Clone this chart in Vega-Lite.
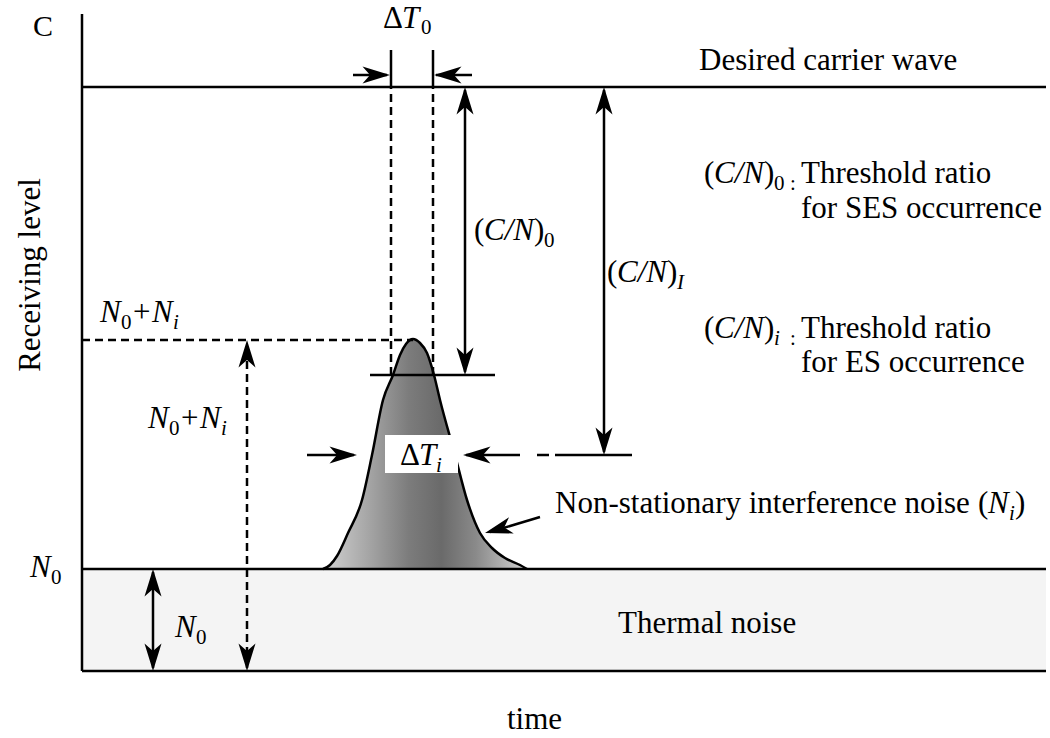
{
  "$schema": "https://vega.github.io/schema/vega-lite/v6.json",
  "width": 1050,
  "height": 738,
  "autosize": {"type": "none"},
  "padding": 0,
  "background": "white",
  "config": {"view": {"stroke": null}},
  "datasets": {
    "band": [{"t": 8.2, "v": 6.7, "t2": 104.6, "v2": 16.9}],
    "box": [{"t": 38.5, "v": 26.5, "t2": 45.8, "v2": 30.3}],
    "pulse": [
      {"t": 32.3, "v": 16.9}, {"t": 33.0, "v": 17.3}, {"t": 33.7, "v": 18.2}, {"t": 34.8, "v": 20.5},
      {"t": 36.2, "v": 23.8}, {"t": 37.2, "v": 28.3}, {"t": 38.3, "v": 33.8}, {"t": 39.3, "v": 36.3},
      {"t": 40.0, "v": 38.3}, {"t": 40.6, "v": 39.4}, {"t": 41.3, "v": 39.9}, {"t": 42.0, "v": 39.5},
      {"t": 42.7, "v": 38.5}, {"t": 43.4, "v": 36.3}, {"t": 44.0, "v": 33.8}, {"t": 45.5, "v": 28.3},
      {"t": 46.7, "v": 23.8}, {"t": 48.0, "v": 20.5}, {"t": 49.2, "v": 19.0}, {"t": 50.5, "v": 18.0},
      {"t": 52.0, "v": 17.3}, {"t": 52.7, "v": 16.9}
    ],
    "lines": [
      {"t": 8.2, "v": 6.7, "t2": 8.2, "v2": 72.4},
      {"t": 8.2, "v": 6.7, "t2": 104.6, "v2": 6.7},
      {"t": 8.2, "v": 65.1, "t2": 104.6, "v2": 65.1},
      {"t": 8.2, "v": 16.9, "t2": 104.6, "v2": 16.9},
      {"t": 39.1, "v": 65.1, "t2": 39.1, "v2": 68.8},
      {"t": 43.3, "v": 65.1, "t2": 43.3, "v2": 68.8},
      {"t": 37.0, "v": 36.3, "t2": 49.5, "v2": 36.3},
      {"t": 55.5, "v": 28.3, "t2": 63.2, "v2": 28.3},
      {"t": 53.7, "v": 28.3, "t2": 54.9, "v2": 28.3},
      {"t": 46.5, "v": 36.6, "t2": 46.5, "v2": 64.8},
      {"t": 60.4, "v": 28.6, "t2": 60.4, "v2": 64.8},
      {"t": 15.3, "v": 7.0, "t2": 15.3, "v2": 16.6},
      {"t": 35.3, "v": 66.3, "t2": 38.7, "v2": 66.3},
      {"t": 47.2, "v": 66.3, "t2": 43.6, "v2": 66.3},
      {"t": 30.7, "v": 28.3, "t2": 35.4, "v2": 28.3},
      {"t": 52.0, "v": 28.3, "t2": 46.6, "v2": 28.3},
      {"t": 54.0, "v": 22.1, "t2": 49.0, "v2": 20.6}
    ],
    "dashes": [
      {"t": 39.1, "v": 36.3, "t2": 39.1, "v2": 65.1},
      {"t": 43.3, "v": 36.3, "t2": 43.3, "v2": 65.1},
      {"t": 8.2, "v": 39.8, "t2": 41.3, "v2": 39.8},
      {"t": 24.7, "v": 7.0, "t2": 24.7, "v2": 39.5}
    ],
    "heads": [
      {"t": 46.5, "v": 65.1, "dir": "up"},
      {"t": 46.5, "v": 36.3, "dir": "down"},
      {"t": 60.4, "v": 65.1, "dir": "up"},
      {"t": 60.4, "v": 28.3, "dir": "down"},
      {"t": 15.3, "v": 16.9, "dir": "up"},
      {"t": 15.3, "v": 6.7, "dir": "down"},
      {"t": 39.0, "v": 66.3, "dir": "right"},
      {"t": 43.4, "v": 66.3, "dir": "left"},
      {"t": 35.7, "v": 28.3, "dir": "right"},
      {"t": 46.3, "v": 28.3, "dir": "left"},
      {"t": 24.7, "v": 39.8, "dir": "up"},
      {"t": 24.7, "v": 6.7, "dir": "down"},
      {"t": 48.5, "v": 20.5, "dir": "downleft"}
    ],
    "texts": [
      {"t": 3.3, "v": 70.2, "s": "C", "k": "c"},
      {"t": 38.3, "v": 71.0, "s": "Δ", "k": "r"},
      {"t": 40.2, "v": 71.0, "s": "T", "k": "it"},
      {"t": 42.1, "v": 70.4, "s": "0", "k": "sr"},
      {"t": 69.9, "v": 66.8, "s": "Desired carrier wave", "k": "r"},
      {"t": 47.4, "v": 49.8, "s": "(", "k": "r"},
      {"t": 48.4, "v": 49.8, "s": "C/N", "k": "it"},
      {"t": 53.4, "v": 49.8, "s": ")", "k": "r"},
      {"t": 54.4, "v": 49.1, "s": "0", "k": "sr"},
      {"t": 60.7, "v": 45.6, "s": "(", "k": "r"},
      {"t": 61.7, "v": 45.6, "s": "C/N", "k": "it"},
      {"t": 66.7, "v": 45.6, "s": ")", "k": "r"},
      {"t": 67.7, "v": 44.9, "s": "I", "k": "si"},
      {"t": 70.4, "v": 55.5, "s": "(", "k": "r"},
      {"t": 71.4, "v": 55.5, "s": "C/N", "k": "it"},
      {"t": 76.4, "v": 55.5, "s": ")", "k": "r"},
      {"t": 77.4, "v": 54.8, "s": "0", "k": "sr"},
      {"t": 79.0, "v": 54.8, "s": ":", "k": "sr"},
      {"t": 80.1, "v": 55.5, "s": "Threshold ratio", "k": "r"},
      {"t": 80.1, "v": 52.0, "s": "for SES occurrence", "k": "r"},
      {"t": 70.4, "v": 40.0, "s": "(", "k": "r"},
      {"t": 71.4, "v": 40.0, "s": "C/N", "k": "it"},
      {"t": 76.4, "v": 40.0, "s": ")", "k": "r"},
      {"t": 77.4, "v": 39.3, "s": "i", "k": "si"},
      {"t": 79.0, "v": 39.3, "s": ":", "k": "sr"},
      {"t": 80.1, "v": 40.0, "s": "Threshold ratio", "k": "r"},
      {"t": 80.1, "v": 36.6, "s": "for ES occurrence", "k": "r"},
      {"t": 10.0, "v": 41.6, "s": "N", "k": "it"},
      {"t": 12.1, "v": 40.9, "s": "0", "k": "sr"},
      {"t": 13.1, "v": 41.6, "s": "+N", "k": "it"},
      {"t": 17.3, "v": 40.9, "s": "i", "k": "si"},
      {"t": 14.8, "v": 31.0, "s": "N", "k": "it"},
      {"t": 16.9, "v": 30.3, "s": "0", "k": "sr"},
      {"t": 17.9, "v": 31.0, "s": "+N", "k": "it"},
      {"t": 22.1, "v": 30.3, "s": "i", "k": "si"},
      {"t": 40.0, "v": 27.3, "s": "Δ", "k": "r"},
      {"t": 41.9, "v": 27.3, "s": "T", "k": "it"},
      {"t": 43.6, "v": 26.6, "s": "i", "k": "si"},
      {"t": 55.5, "v": 22.5, "s": "Non-stationary interference noise", "k": "r"},
      {"t": 97.8, "v": 22.5, "s": "(", "k": "r"},
      {"t": 98.8, "v": 22.5, "s": "N", "k": "it"},
      {"t": 100.9, "v": 21.8, "s": "i", "k": "si"},
      {"t": 101.5, "v": 22.5, "s": ")", "k": "r"},
      {"t": 3.0, "v": 16.1, "s": "N", "k": "it"},
      {"t": 5.1, "v": 15.4, "s": "0", "k": "sr"},
      {"t": 17.5, "v": 10.1, "s": "N", "k": "it"},
      {"t": 19.6, "v": 9.4, "s": "0", "k": "sr"},
      {"t": 61.8, "v": 10.5, "s": "Thermal noise", "k": "r"},
      {"t": 50.7, "v": 0.9, "s": "time", "k": "r"}
    ],
    "vtext": [{"t": 4.0, "v": 46.3, "s": "Receiving level"}]
  },
  "encoding": {
    "x": {"field": "t", "type": "quantitative", "scale": {"domain": [0, 105], "nice": false, "zero": false}, "axis": null},
    "y": {"field": "v", "type": "quantitative", "scale": {"domain": [0, 73.8], "nice": false, "zero": false}, "axis": null}
  },
  "layer": [
    {
      "data": {"name": "band"},
      "mark": {"type": "rect", "color": "#f4f4f4"},
      "encoding": {"x2": {"field": "t2"}, "y2": {"field": "v2"}}
    },
    {
      "data": {"name": "pulse"},
      "mark": {
        "type": "area",
        "interpolate": "monotone",
        "color": {
          "gradient": "linear", "x1": 0, "y1": 0, "x2": 1, "y2": 0,
          "stops": [
            {"offset": 0, "color": "#d2d2d2"},
            {"offset": 0.22, "color": "#a6a6a6"},
            {"offset": 0.42, "color": "#7c7c7c"},
            {"offset": 0.58, "color": "#6a6a6a"},
            {"offset": 0.75, "color": "#8a8a8a"},
            {"offset": 1, "color": "#d2d2d2"}
          ]
        },
        "opacity": 1,
        "line": {"color": "black", "strokeWidth": 2.5}
      },
      "encoding": {"y2": {"datum": 16.9}}
    },
    {
      "data": {"name": "box"},
      "mark": {"type": "rect", "color": "white"},
      "encoding": {"x2": {"field": "t2"}, "y2": {"field": "v2"}}
    },
    {
      "data": {"name": "lines"},
      "mark": {"type": "rule", "color": "black", "strokeWidth": 2.5},
      "encoding": {"x2": {"field": "t2"}, "y2": {"field": "v2"}}
    },
    {
      "data": {"name": "dashes"},
      "mark": {"type": "rule", "color": "black", "strokeWidth": 2.5, "strokeDash": [8, 5]},
      "encoding": {"x2": {"field": "t2"}, "y2": {"field": "v2"}}
    },
    {
      "data": {"name": "heads"},
      "mark": {"type": "point", "filled": true, "color": "black", "opacity": 1, "size": 2500, "strokeWidth": 0},
      "encoding": {
        "shape": {
          "field": "dir", "type": "nominal", "legend": null,
          "scale": {
            "domain": ["up", "down", "left", "right", "downleft"],
            "range": [
              "M0,0L0.34,1.1L0,0.8L-0.34,1.1Z",
              "M0,0L0.34,-1.1L0,-0.8L-0.34,-1.1Z",
              "M0,0L1.1,0.34L0.8,0L1.1,-0.34Z",
              "M0,0L-1.1,0.34L-0.8,0L-1.1,-0.34Z",
              "M0,0L1.151,0.018L0.768,-0.224L0.961,-0.634Z"
            ]
          }
        }
      }
    },
    {
      "data": {"name": "texts"},
      "transform": [{"filter": "datum.k === 'r'"}],
      "mark": {"type": "text", "font": "Liberation Serif", "fontSize": 31, "align": "left", "baseline": "alphabetic", "color": "black"},
      "encoding": {"text": {"field": "s"}}
    },
    {
      "data": {"name": "texts"},
      "transform": [{"filter": "datum.k === 'it'"}],
      "mark": {"type": "text", "font": "Liberation Serif", "fontSize": 31, "fontStyle": "italic", "align": "left", "baseline": "alphabetic", "color": "black"},
      "encoding": {"text": {"field": "s"}}
    },
    {
      "data": {"name": "texts"},
      "transform": [{"filter": "datum.k === 'sr'"}],
      "mark": {"type": "text", "font": "Liberation Serif", "fontSize": 21, "align": "left", "baseline": "alphabetic", "color": "black"},
      "encoding": {"text": {"field": "s"}}
    },
    {
      "data": {"name": "texts"},
      "transform": [{"filter": "datum.k === 'si'"}],
      "mark": {"type": "text", "font": "Liberation Serif", "fontSize": 21, "fontStyle": "italic", "align": "left", "baseline": "alphabetic", "color": "black"},
      "encoding": {"text": {"field": "s"}}
    },
    {
      "data": {"name": "texts"},
      "transform": [{"filter": "datum.k === 'c'"}],
      "mark": {"type": "text", "font": "Liberation Serif", "fontSize": 30, "align": "left", "baseline": "alphabetic", "color": "black"},
      "encoding": {"text": {"field": "s"}}
    },
    {
      "data": {"name": "vtext"},
      "mark": {"type": "text", "font": "Liberation Serif", "fontSize": 31, "angle": 270, "align": "center", "baseline": "alphabetic", "color": "black"},
      "encoding": {"text": {"field": "s"}}
    }
  ]
}
